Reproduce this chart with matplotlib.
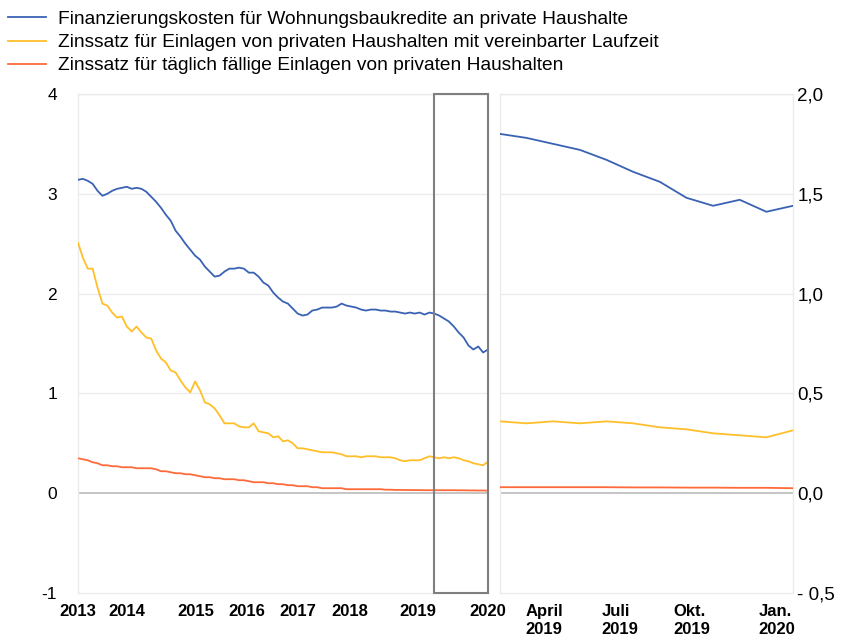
import numpy as np
import matplotlib
matplotlib.use("Agg")
import matplotlib.pyplot as plt
from matplotlib.patches import Rectangle

plt.rcParams['font.family'] = ['Liberation Sans', 'DejaVu Sans']

# monthly values Jan 2013 .. Jan 2020
wohnbau = [3.14, 3.15, 3.13, 3.10, 3.03, 2.98, 3.00, 3.03, 3.05, 3.06,
           3.07, 3.05, 3.06, 3.05, 3.02, 2.97, 2.92, 2.86, 2.79, 2.73,
           2.63, 2.57, 2.50, 2.44, 2.38, 2.34, 2.27, 2.22, 2.17, 2.18,
           2.22, 2.25, 2.25, 2.26, 2.25, 2.21, 2.21, 2.17, 2.11, 2.08,
           2.01, 1.96, 1.92, 1.90, 1.85, 1.80, 1.78, 1.79, 1.83, 1.84,
           1.86, 1.86, 1.86, 1.87, 1.90, 1.88, 1.87, 1.86, 1.84, 1.83,
           1.84, 1.84, 1.83, 1.83, 1.82, 1.82, 1.81, 1.80, 1.81, 1.80,
           1.81, 1.79, 1.81, 1.80, 1.78, 1.75, 1.72, 1.67, 1.61, 1.56,
           1.48, 1.44, 1.47, 1.41, 1.44]
laufzeit = [2.51, 2.36, 2.25, 2.25, 2.06, 1.90, 1.88, 1.81, 1.76, 1.77,
            1.67, 1.62, 1.67, 1.61, 1.56, 1.55, 1.43, 1.35, 1.31, 1.23,
            1.21, 1.13, 1.06, 1.01, 1.12, 1.03, 0.91, 0.89, 0.85, 0.78,
            0.70, 0.70, 0.70, 0.67, 0.66, 0.66, 0.70, 0.62, 0.61, 0.60,
            0.56, 0.57, 0.52, 0.53, 0.50, 0.45, 0.45, 0.44, 0.43, 0.42,
            0.41, 0.41, 0.41, 0.40, 0.39, 0.37, 0.37, 0.37, 0.36, 0.37,
            0.37, 0.37, 0.36, 0.36, 0.36, 0.35, 0.33, 0.32, 0.33, 0.33,
            0.33, 0.35, 0.37, 0.36, 0.35, 0.36, 0.35, 0.36, 0.35, 0.33,
            0.32, 0.30, 0.29, 0.28, 0.315]
taeglich = [0.35, 0.34, 0.33, 0.31, 0.30, 0.28, 0.28, 0.27, 0.27, 0.26,
            0.26, 0.26, 0.25, 0.25, 0.25, 0.25, 0.24, 0.22, 0.22, 0.21,
            0.20, 0.20, 0.19, 0.19, 0.18, 0.17, 0.16, 0.16, 0.15, 0.15,
            0.14, 0.14, 0.14, 0.13, 0.13, 0.12, 0.11, 0.11, 0.11, 0.10,
            0.10, 0.09, 0.09, 0.08, 0.08, 0.07, 0.07, 0.07, 0.06, 0.06,
            0.05, 0.05, 0.05, 0.05, 0.05, 0.04, 0.04, 0.04, 0.04, 0.04,
            0.04, 0.04, 0.04, 0.035, 0.035, 0.033, 0.033, 0.032, 0.032, 0.031,
            0.031, 0.030, 0.030, 0.030, 0.030, 0.030, 0.030, 0.030, 0.029, 0.029,
            0.028, 0.028, 0.027, 0.027, 0.025]

labels = ['Finanzierungskosten für Wohnungsbaukredite an private Haushalte',
          'Zinssatz für Einlagen von privaten Haushalten mit vereinbarter Laufzeit',
          'Zinssatz für täglich fällige Einlagen von privaten Haushalten']
colors = ['#3a62b3', '#ffbf2a', '#ff6a3a']

# tick positions in months since Jan 2013, as placed in the original
year_ticks = [0, 10, 24.2, 34.6, 45.1, 55.7, 69.7, 84]
year_labels = ['2013', '2014', '2015', '2016', '2017', '2018', '2019', '2020']
zoom_months = 12   # Feb 2019 .. Jan 2020
zoom_ticks = [1.65, 4.5, 7.2, 10.4]
zoom_labels = ['April\n2019', 'Juli\n2019', 'Okt.\n2019', 'Jan.\n2020']
right_ticks = [-0.5, 0.0, 0.5, 1.0, 1.5, 2.0]
right_labels = ['- 0,5', '0,0', '0,5', '1,0', '1,5', '2,0']

grid_c = '#ebebeb'
series = [wohnbau, laufzeit, taeglich]

fig = plt.figure(figsize=(8.51, 6.4), dpi=100)
ax1 = fig.add_axes([78/851, 47/640, 410/851, 499/640])
ax2 = fig.add_axes([500/851, 47/640, 293/851, 499/640])

x = np.arange(len(wohnbau))
lines = []
for s, c in zip(series, colors):
    ln, = ax1.plot(x, s, color=c, lw=1.3, zorder=3)
    lines.append(ln)
ax1.set_xlim(0, len(wohnbau) - 1)
ax1.set_ylim(-1, 4)
ax1.set_yticks([-1, 0, 1, 2, 3, 4])
ax1.set_yticklabels(['-1', '0', '1', '2', '3', '4'])
ax1.set_xticks(year_ticks)
ax1.set_xticklabels(year_labels, fontweight='bold')
ax1.tick_params(axis='y', length=0, labelsize=12.5, pad=15)
ax1.tick_params(axis='x', length=0, labelsize=12, pad=8)
for yv in [1, 2, 3, 4]:
    ax1.axhline(yv, color=grid_c, lw=1, zorder=1)
ax1.axhline(0, color='#c0c0c0', lw=1.3, zorder=2)
box_start = len(wohnbau) - zoom_months
ax1.add_patch(Rectangle((box_start, -1), zoom_months - 1, 5, fill=False,
                        edgecolor='#7f7f7f', lw=1.5, zorder=4, clip_on=False))

xz = np.arange(zoom_months)
for s, c in zip(series, colors):
    ax2.plot(xz, s[-zoom_months:], color=c, lw=1.3, zorder=3)
ax2.set_xlim(0, zoom_months - 1)
ax2.set_ylim(-0.5, 2.0)
ax2.yaxis.tick_right()
ax2.set_yticks(right_ticks)
ax2.set_yticklabels(right_labels)
ax2.set_xticks(zoom_ticks)
ax2.set_xticklabels(zoom_labels, fontweight='bold', multialignment='left')
ax2.tick_params(axis='y', length=0, labelsize=13.5, pad=3)
ax2.tick_params(axis='x', length=0, labelsize=12, pad=8)
for yv in [0.5, 1.0, 1.5, 2.0]:
    ax2.axhline(yv, color=grid_c, lw=1, zorder=1)
ax2.axhline(0, color='#c0c0c0', lw=1.3, zorder=2)

for ax in (ax1, ax2):
    for sp in ax.spines.values():
        sp.set_color(grid_c)
        sp.set_linewidth(1)

fig.legend(lines, labels, loc='upper left', bbox_to_anchor=(0.0, 1.0 - 3/640),
           frameon=False, fontsize=13.8, handlelength=2.0, handletextpad=0.6,
           labelspacing=0.3, borderaxespad=0.2, borderpad=0.2)

fig.savefig('out.png', dpi=100)
